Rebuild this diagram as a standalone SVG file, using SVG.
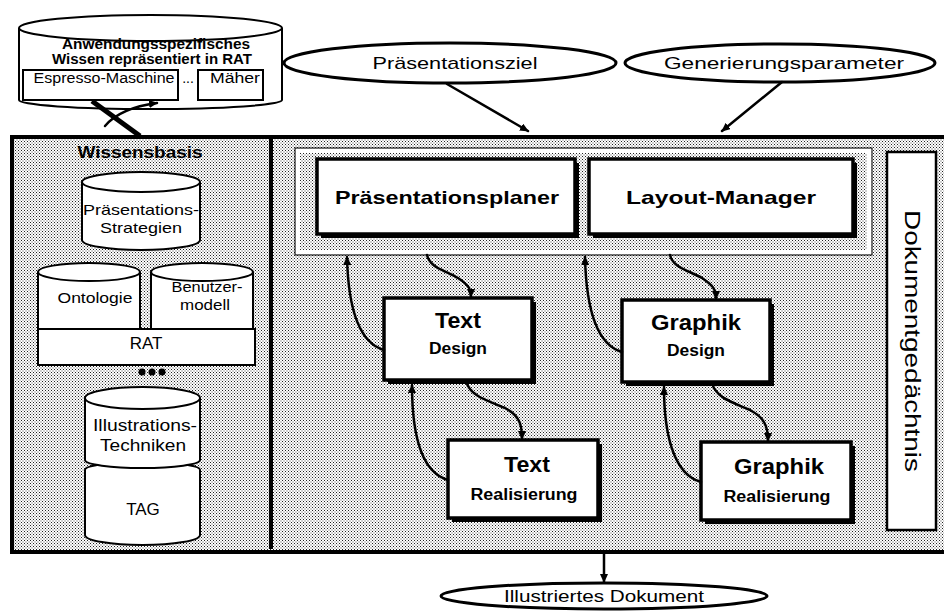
<svg xmlns="http://www.w3.org/2000/svg" width="944" height="614" viewBox="0 0 944 614">
<style>
text{font-family:"Liberation Sans",Arial,sans-serif;fill:#000}
.b{font-weight:bold}
.ln{fill:none;stroke:#000;stroke-width:2.5;stroke-linecap:round}
.box{fill:#fff;stroke:#000;stroke-width:3.5}
.sh{fill:#000}
.cyl{fill:#fff;stroke:#000;stroke-width:2}
.ell{fill:#fff;stroke:#000;stroke-width:3}
</style>
<defs>
<pattern id="dots" width="3" height="3" patternUnits="userSpaceOnUse">
<rect width="3" height="3" fill="#fff"/>
<rect width="1" height="1" fill="#222"/>
<rect x="1.5" y="1.5" width="1" height="1" fill="#444"/>
</pattern>
<marker id="ah" markerWidth="9" markerHeight="8" refX="8" refY="4" orient="auto" markerUnits="userSpaceOnUse">
<path d="M0,0 L9,4 L0,8 z" fill="#000"/>
</marker>
</defs>

<g id="frame">
<rect x="12" y="137" width="940" height="415" fill="url(#dots)" stroke="#000" stroke-width="4"/>
<line x1="271" y1="139" x2="271" y2="549" stroke="#000" stroke-width="4"/>
</g>

<g id="anwendung">
<path class="cyl" d="M19,28 V100 A131,9 0 0 0 282,100 V28" stroke-width="2.5"/>
<ellipse class="cyl" cx="150.5" cy="28" rx="131.5" ry="13" stroke-width="2.5"/>
<text class="b" x="156" y="49" font-size="14" text-anchor="middle" textLength="188" lengthAdjust="spacingAndGlyphs">Anwendungsspezifisches</text>
<text class="b" x="152" y="64" font-size="14" text-anchor="middle" textLength="200" lengthAdjust="spacingAndGlyphs">Wissen repräsentiert in RAT</text>
<rect x="23" y="70" width="155" height="30" fill="#fff" stroke="#000" stroke-width="2"/>
<text x="104" y="83" font-size="14" text-anchor="middle" textLength="141" lengthAdjust="spacingAndGlyphs">Espresso-Maschine</text>
<text x="188" y="83" font-size="14" text-anchor="middle">...</text>
<rect x="198" y="70" width="65" height="30" fill="#fff" stroke="#000" stroke-width="2"/>
<text x="235" y="83" font-size="14" text-anchor="middle" textLength="50" lengthAdjust="spacingAndGlyphs">Mäher</text>
</g>

<g id="wissensbasis">
<text class="b" x="140" y="158" font-size="17" text-anchor="middle" textLength="125" lengthAdjust="spacingAndGlyphs">Wissensbasis</text>
</g>
<g id="strategien">
<path class="cyl" d="M82,182 V240 A59,10 0 0 0 200,240 V182"/>
<ellipse class="cyl" cx="141" cy="182" rx="59" ry="10"/>
<text x="141" y="215" font-size="15" text-anchor="middle" textLength="116" lengthAdjust="spacingAndGlyphs">Präsentations-</text>
<text x="141" y="233" font-size="15" text-anchor="middle" textLength="82" lengthAdjust="spacingAndGlyphs">Strategien</text>
</g>
<g id="ontologie">
<path class="cyl" d="M38,272 V329 H140 V272"/>
<ellipse class="cyl" cx="89" cy="272" rx="51" ry="9"/>
<text x="95" y="303" font-size="15" text-anchor="middle" textLength="75" lengthAdjust="spacingAndGlyphs">Ontologie</text>
</g>
<g id="benutzermodell">
<path class="cyl" d="M151,272 V329 H253 V272"/>
<ellipse class="cyl" cx="202" cy="272" rx="51" ry="9"/>
<text x="207" y="292" font-size="14" text-anchor="middle" textLength="71" lengthAdjust="spacingAndGlyphs">Benutzer-</text>
<text x="205" y="310" font-size="14" text-anchor="middle" textLength="50" lengthAdjust="spacingAndGlyphs">modell</text>
</g>
<g id="rat">
<rect x="38" y="329" width="217" height="36" fill="#fff" stroke="#000" stroke-width="2"/>
<text x="146" y="349" font-size="17" text-anchor="middle">RAT</text>
<circle cx="142" cy="372" r="3.5"/><circle cx="152" cy="372" r="3.5"/><circle cx="162" cy="372" r="3.5"/>
</g>
<g id="tag">
<path class="cyl" d="M85,470 A57.5,8 0 0 1 200,470 V535 A57.5,10 0 0 1 85,535 Z"/>
<text x="143" y="515" font-size="17" text-anchor="middle">TAG</text>
</g>
<g id="illustrationstechniken">
<path class="cyl" d="M85,398 V460 A57.5,8 0 0 0 200,460 V398"/>
<ellipse class="cyl" cx="142.5" cy="398" rx="57.5" ry="11"/>
<text x="145" y="431" font-size="16" text-anchor="middle" textLength="104" lengthAdjust="spacingAndGlyphs">Illustrations-</text>
<text x="143" y="451" font-size="16" text-anchor="middle" textLength="86" lengthAdjust="spacingAndGlyphs">Techniken</text>
</g>

<g id="praesentationsziel">
<ellipse class="ell" cx="450" cy="63" rx="166" ry="20"/>
<text x="455" y="69" font-size="17" text-anchor="middle" textLength="165" lengthAdjust="spacingAndGlyphs">Präsentationsziel</text>
</g>
<g id="generierungsparameter">
<ellipse class="ell" cx="780" cy="63" rx="155" ry="19"/>
<text x="784" y="69" font-size="17" text-anchor="middle" textLength="240" lengthAdjust="spacingAndGlyphs">Generierungsparameter</text>
</g>

<g id="planergruppe">
<rect x="298" y="151" width="571" height="101" fill="none" stroke="#fff" stroke-width="4"/>
<rect x="295" y="148" width="577" height="107" fill="none" stroke="#000" stroke-width="1"/>
</g>
<g id="praesentationsplaner">
<rect class="sh" x="321" y="163" width="258" height="75"/>
<rect class="box" x="317" y="159" width="258" height="75"/>
<text class="b" x="447" y="204" font-size="19" text-anchor="middle" textLength="224" lengthAdjust="spacingAndGlyphs">Präsentationsplaner</text>
</g>
<g id="layoutmanager">
<rect class="sh" x="593" y="163" width="264" height="75"/>
<rect class="box" x="589" y="159" width="264" height="75"/>
<text class="b" x="721" y="204" font-size="19" text-anchor="middle" textLength="190" lengthAdjust="spacingAndGlyphs">Layout-Manager</text>
</g>
<g id="dokumentgedaechtnis">
<rect x="887" y="152" width="49" height="378" fill="#fff" stroke="#000" stroke-width="2.5"/>
<text transform="translate(905,341) rotate(90)" font-size="22" text-anchor="middle" textLength="262" lengthAdjust="spacingAndGlyphs">Dokumentgedächtnis</text>
</g>
<g id="textdesign">
<rect class="sh" x="388" y="302" width="148" height="82"/>
<rect class="box" x="384" y="298" width="148" height="82"/>
<text class="b" x="458" y="328" font-size="22" text-anchor="middle" textLength="46" lengthAdjust="spacingAndGlyphs">Text</text>
<text class="b" x="458" y="354" font-size="16" text-anchor="middle" textLength="58" lengthAdjust="spacingAndGlyphs">Design</text>
</g>
<g id="graphikdesign">
<rect class="sh" x="626" y="304" width="148" height="82"/>
<rect class="box" x="622" y="300" width="148" height="82"/>
<text class="b" x="696" y="330" font-size="22" text-anchor="middle" textLength="90" lengthAdjust="spacingAndGlyphs">Graphik</text>
<text class="b" x="696" y="356" font-size="16" text-anchor="middle" textLength="58" lengthAdjust="spacingAndGlyphs">Design</text>
</g>
<g id="textrealisierung">
<rect class="sh" x="452" y="444" width="150" height="78"/>
<rect class="box" x="448" y="440" width="150" height="78"/>
<text class="b" x="527" y="472" font-size="22" text-anchor="middle" textLength="46" lengthAdjust="spacingAndGlyphs">Text</text>
<text class="b" x="524" y="500" font-size="16" text-anchor="middle" textLength="107" lengthAdjust="spacingAndGlyphs">Realisierung</text>
</g>
<g id="graphikrealisierung">
<rect class="sh" x="705" y="446" width="150" height="78"/>
<rect class="box" x="701" y="442" width="150" height="78"/>
<text class="b" x="779" y="474" font-size="22" text-anchor="middle" textLength="90" lengthAdjust="spacingAndGlyphs">Graphik</text>
<text class="b" x="777" y="502" font-size="16" text-anchor="middle" textLength="107" lengthAdjust="spacingAndGlyphs">Realisierung</text>
</g>

<g id="illustriertesdokument">
<ellipse class="ell" cx="604" cy="596" rx="163" ry="13"/>
<text x="604" y="602" font-size="17" text-anchor="middle" textLength="200" lengthAdjust="spacingAndGlyphs">Illustriertes Dokument</text>
</g>

<g id="connectors">
<path d="M92,101 L140,136" fill="none" stroke="#000" stroke-width="5"/>
<path class="ln" d="M105,126 Q120,108 157,103" stroke-width="3.5" marker-end="url(#ah)"/>
<path class="ln" d="M447,84 L528,131" stroke-width="2" marker-end="url(#ah)"/>
<path class="ln" d="M782,82 L722,131" stroke-width="2" marker-end="url(#ah)"/>
<path class="ln" d="M384,350 C356,342 348,300 347,257" marker-end="url(#ah)"/>
<path class="ln" d="M427,255 C430,268 445,270 458,278 C470,286 471,290 471,297" marker-end="url(#ah)"/>
<path class="ln" d="M622,352 C594,344 586,300 585,257" marker-end="url(#ah)"/>
<path class="ln" d="M670,255 C673,268 688,270 702,278 C714,286 716,290 716,299" marker-end="url(#ah)"/>
<path class="ln" d="M448,480 C420,472 412,430 412,385" marker-end="url(#ah)"/>
<path class="ln" d="M466,381 C470,396 486,400 505,408 C520,416 522,425 522,439" marker-end="url(#ah)"/>
<path class="ln" d="M701,482 C672,474 664,430 664,387" marker-end="url(#ah)"/>
<path class="ln" d="M712,383 C716,398 732,402 750,410 C765,418 768,427 768,441" marker-end="url(#ah)"/>
<path class="ln" d="M604,554 L604,582" stroke-width="2" marker-end="url(#ah)"/>
</g>
</svg>
